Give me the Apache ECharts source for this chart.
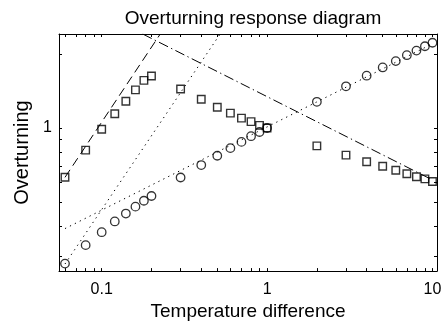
<!DOCTYPE html>
<html>
<head>
<meta charset="utf-8">
<script src="https://cdn.jsdelivr.net/npm/echarts@6/dist/echarts.min.js"></script>
<style>
  html, body { margin: 0; padding: 0; background: #fff; }
  #chart { width: 447px; height: 326px; }
</style>
</head>
<body>
<div id="chart"></div>
<script>
// temperature difference (x) at which the runs were done
const tempDiff = [0.06, 0.08, 0.1, 0.12, 0.14, 0.16, 0.18, 0.2, 0.3, 0.4, 0.5, 0.6, 0.7, 0.8, 0.9, 1, 2, 3, 4, 5, 6, 7, 8, 9, 10]
// square markers
const squareVals = [0.631, 0.813, 0.988, 1.143, 1.285, 1.428, 1.562, 1.627, 1.441, 1.309, 1.215, 1.149, 1.097, 1.061, 1.025, 1.0, 0.846, 0.776, 0.729, 0.699, 0.673, 0.652, 0.634, 0.621, 0.606]
// circle markers
const circleVals = [0.281, 0.334, 0.377, 0.417, 0.449, 0.479, 0.506, 0.529, 0.629, 0.707, 0.771, 0.828, 0.878, 0.926, 0.963, 1.0, 1.278, 1.477, 1.631, 1.762, 1.87, 1.977, 2.063, 2.149, 2.22]

// reference scaling lines (end points)
const dashLine = [[0.06, 0.63], [0.226, 2.41]]
const dashDotLine = [[0.177, 2.41], [10, 0.615]]
const steepDotLine = [[0.06, 0.28], [0.52, 2.41]]
const shallowDotLine = [[0.06, 0.39], [10, 2.2]]

// axes
const xRange = [0.0552, 10.65]
const yRange = [0.262, 2.41]
const xTickVals = [0.06, 0.07, 0.08, 0.09, 0.1, 0.2, 0.3, 0.4, 0.5, 0.6, 0.7, 0.8, 0.9, 1, 2, 3, 4, 5, 6, 7, 8, 9, 10]
const yTickVals = [0.3, 0.4, 0.5, 0.6, 0.7, 0.8, 0.9, 1, 2]
const xLabelVals = [0.1, 1, 10]
const xLabelText = ['0.1', '1', '10']
const yLabelVals = [1]
const yLabelText = ['1']

const FONT = 'Liberation Sans'

const chart = echarts.init(document.getElementById('chart'), null, { renderer: 'canvas' })

const pairs = (xs, ys) => xs.map((x, i) => [x, ys[i]])

const axisBase = (range, ticks) => ({
  type: 'log',
  logBase: 10,
  min: range[0],
  max: range[1],
  splitLine: { show: false },
  axisLine: { show: true, lineStyle: { color: '#000', width: 1 } },
  axisTick: { show: true, inside: true, length: 3, customValues: ticks, lineStyle: { color: '#000', width: 1 } }
})

const labelFmt = (vals, texts) => (v) => {
  const i = vals.findIndex((t) => Math.abs(Math.log10(t) - Math.log10(v)) < 1e-6)
  return i >= 0 ? texts[i] : ''
}

const lineSeries = (data, dash) => ({
  type: 'line',
  data: data,
  symbol: 'none',
  silent: true,
  clip: true,
  z: 1,
  lineStyle: { color: '#000', width: 1, type: dash }
})

chart.setOption({
  animation: false,
  backgroundColor: '#fff',
  title: {
    text: 'Overturning response diagram',
    left: 248,
    top: 4,
    textAlign: 'center',
    textStyle: { fontFamily: FONT, fontSize: 19, fontWeight: 'normal', color: '#000' }
  },
  grid: { left: 59, right: 10, top: 34, bottom: 52 },
  xAxis: [
    Object.assign(axisBase(xRange, xTickVals), {
      position: 'bottom',
      name: 'Temperature difference',
      nameLocation: 'middle',
      nameGap: 29,
      nameTextStyle: { fontFamily: FONT, fontSize: 19, color: '#000' },
      axisLabel: {
        customValues: xLabelVals,
        formatter: labelFmt(xLabelVals, xLabelText),
        margin: 10,
        fontFamily: FONT, fontSize: 16, color: '#000'
      }
    }),
    Object.assign(axisBase(xRange, xTickVals), {
      position: 'top',
      axisLabel: { show: false }
    })
  ],
  yAxis: [
    Object.assign(axisBase(yRange, yTickVals), {
      position: 'left',
      name: 'Overturning',
      nameLocation: 'middle',
      nameGap: 24,
      nameTextStyle: { fontFamily: FONT, fontSize: 20, color: '#000' },
      axisLabel: {
        customValues: yLabelVals,
        formatter: labelFmt(yLabelVals, yLabelText),
        margin: 7,
        fontFamily: FONT, fontSize: 16, color: '#000'
      }
    }),
    Object.assign(axisBase(yRange, yTickVals), {
      position: 'right',
      axisLabel: { show: false }
    })
  ],
  series: [
    lineSeries(dashLine, [9, 5]),
    lineSeries(dashDotLine, [10, 3.5, 1.3, 3.5]),
    lineSeries(steepDotLine, [1.3, 4.2]),
    lineSeries(shallowDotLine, [1.3, 4.2]),
    {
      type: 'scatter',
      data: pairs(tempDiff, squareVals),
      symbol: 'rect',
      symbolSize: 7.5,
      z: 3,
      itemStyle: { color: 'rgba(0,0,0,0)', borderColor: '#000', borderWidth: 1.4 }
    },
    {
      type: 'scatter',
      data: pairs(tempDiff, circleVals),
      symbol: 'circle',
      symbolSize: 8.5,
      z: 3,
      itemStyle: { color: 'rgba(0,0,0,0)', borderColor: '#000', borderWidth: 1.3 }
    }
  ]
})
</script>
</body>
</html>
